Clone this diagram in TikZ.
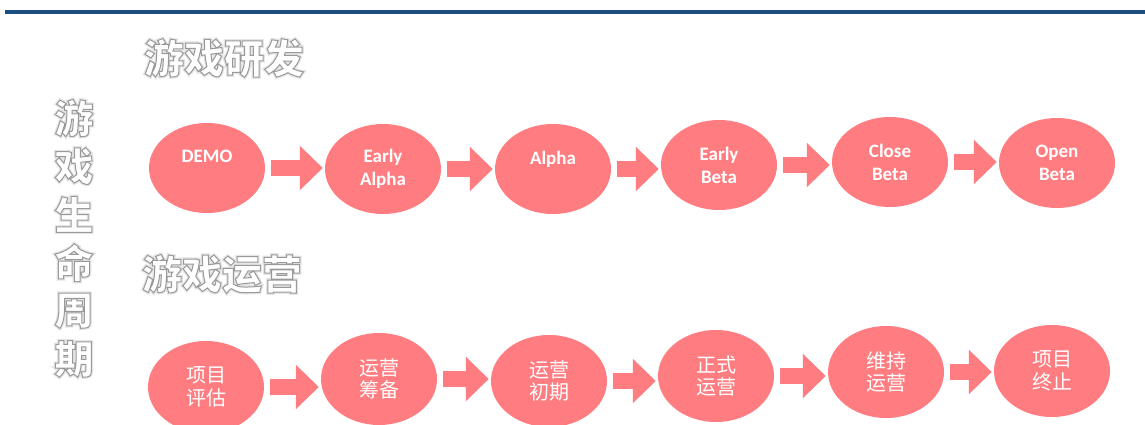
\documentclass[tikz,border=0pt]{standalone}
\usepackage{fontspec}
\usetikzlibrary{shapes.geometric,arrows.meta}
\newfontfamily\latinb{Carlito}
\newfontfamily\cjk{Noto Sans CJK SC}
\definecolor{pinkfill}{HTML}{FF7C80}
\definecolor{rulebl}{HTML}{1B4F82}
\newcommand\hollow[1]{{\color{white}%
\rlap{\special{pdf:literal direct q 1 Tr 3.5 w 0.9 G}#1\special{pdf:literal direct Q}}%
\special{pdf:literal direct q 2 Tr 1.0 w 0.6 G}#1\special{pdf:literal direct Q}}}
\tikzset{
  ell/.style={ellipse, fill=pinkfill, minimum width=116pt, minimum height=90pt,
    inner sep=0pt, text=white, align=center, font=\latinb\bfseries\fontsize{19}{23}\selectfont},
  ellc/.style={ellipse, fill=pinkfill, minimum width=116pt, minimum height=92pt,
    inner sep=0pt, text=white, align=center, font=\cjk\fontsize{20}{22.5}\selectfont},
  fat/.style={draw=pinkfill, line width=16pt, shorten <=6pt, shorten >=2pt,
    -{Triangle[width=43pt,length=23pt]}},
  ttl/.style={inner sep=0pt, font=\cjk\bfseries\fontsize{40}{40}\selectfont},
  vch/.style={inner sep=0pt, font=\cjk\bfseries\fontsize{39}{39}\selectfont}
}
\begin{document}
\begin{tikzpicture}[x=1pt,y=-1pt]
\useasboundingbox (0,0) rectangle (1145,425);
\fill[white] (0,0) rectangle (1145,425);
\clip (0,0) rectangle (1145,425);
\draw[rulebl, line width=4pt] (5,12) -- (1145,12);

\node[ttl] (t1) at (224,58) {\hollow{游戏研发}};
\node[ttl] (t2) at (222,274) {\hollow{游戏运营}};
\foreach \c [count=\i] in {游,戏,生,命,周,期}
  \node[vch] (v\i) at (74,{118+(\i-1)*48.2}) {\hollow{\c}};

\node[ell] (d1) at (207,168) {DEMO\\~};
\node[ell] (d2) at (383,169) {Early\\Alpha};
\node[ell] (d3) at (553,169) {Alpha\\~};
\node[ell] (d4) at (719,165) {Early\\Beta};
\node[ell] (d5) at (890,162) {Close\\Beta};
\node[ell] (d6) at (1057,163) {Open\\Beta};

\node[ellc] (o1) at (206,387) {项目\\评估};
\node[ellc] (o2) at (379,379) {运营\\筹备};
\node[ellc] (o3) at (549,381) {运营\\初期};
\node[ellc] (o4) at (716,376) {正式\\运营};
\node[ellc] (o5) at (886,372) {维持\\运营};
\node[ellc] (o6) at (1052,371) {项目\\终止};

\foreach \a/\b in {d1/d2,d2/d3,d3/d4,d4/d5,d5/d6,o1/o2,o2/o3,o3/o4,o4/o5,o5/o6}
  \draw[fat] (\a.east) -- (\a.east -| \b.west);
\end{tikzpicture}
\end{document}
